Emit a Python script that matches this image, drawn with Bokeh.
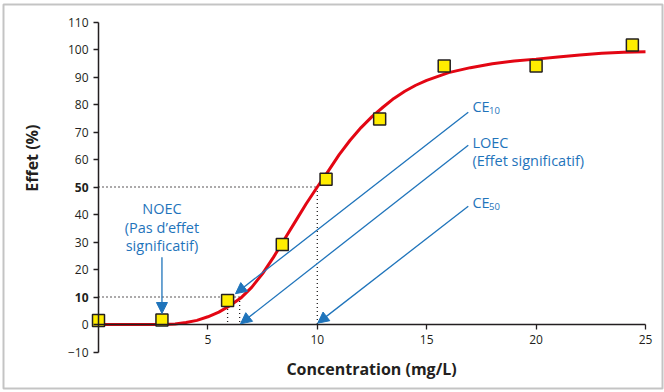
from math import pi
from bokeh.plotting import figure
from bokeh.models import (Range1d, FixedTicker, Label, Arrow, NormalHead,
                          BoxAnnotation, ColumnDataSource)
from bokeh.embed import file_html
from bokeh.resources import INLINE

# ---- data ----
conc = [0.0, 2.9, 5.9, 8.4, 10.4, 12.85, 15.8, 20.0, 24.4]
effect = [1.5, 1.6, 8.7, 29.1, 52.8, 74.7, 94.0, 94.0, 101.6]

fit_x = [0, 1, 2, 3, 3.5, 4, 4.5, 5, 5.5, 6, 6.5, 7, 7.5, 8, 8.5, 9, 9.5, 10,
         10.5, 11, 11.5, 12, 12.5, 13, 13.5, 14, 14.5, 15, 16, 17, 18, 19, 20,
         21, 22, 23, 24, 25]
fit_y = [0, 0, 0, 0, 0.2, 0.7, 1.5, 2.8, 4.5, 6.8, 9.6, 13.5, 18.5, 24.5, 31,
         37.5, 44, 50, 55.8, 61.8, 67.0, 71.6, 75.6, 79.0, 82.2, 84.8, 87.0,
         88.8, 91.6, 93.4, 94.8, 95.8, 96.5, 97.3, 98.0, 98.6, 99.0, 99.2]

x_ticks = [5, 10, 15, 20, 25]
y_ticks = [-10, 0, 10, 20, 30, 40, 50, 60, 70, 80, 90, 100, 110]

noec = 2.9
loec_c = 5.9
ce10 = 6.45
ce50 = 10.0

FONT = "Open Sans"
DARK = "#231f20"
BLUE = "#1f74bb"
RED = "#e30613"
YELLOW = "#ffed00"

W, H = 664, 392
# plotting area: x 0..25 over 547 px starting at px 98; y -10..110 over 330 px, 0 at px 324
SX = 547 / 25.0
SY = 330 / 120.0
x_range = Range1d(-98 / SX, (W - 98) / SX)
y_range = Range1d(-(H - 324) / SY, 324 / SY)

p = figure(width=W, height=H, x_range=x_range, y_range=y_range,
           output_backend="svg", toolbar_location=None,
           min_border_left=0, min_border_right=0, min_border_top=0,
           min_border_bottom=0)
p.grid.visible = False
p.outline_line_color = None
p.background_fill_color = "white"
p.border_fill_color = "white"

for ax in (p.xaxis[0], p.yaxis[0]):
    ax.axis_line_color = DARK
    ax.axis_line_width = 1.5
    ax.major_tick_line_color = DARK
    ax.major_tick_line_width = 1.3
    ax.major_tick_in = 0
    ax.major_tick_out = 5
    ax.minor_tick_in = 0
    ax.minor_tick_out = 0
    ax.major_label_text_font = FONT
    ax.major_label_text_font_size = "12px"
    ax.major_label_text_color = DARK
    ax.major_label_standoff = 5

p.xaxis.fixed_location = 0
p.xaxis.bounds = (0, 25)
p.xaxis.ticker = FixedTicker(ticks=x_ticks)
p.yaxis.fixed_location = 0
p.yaxis.bounds = (-10, 110)
p.yaxis.ticker = FixedTicker(ticks=y_ticks)
p.yaxis.major_label_overrides = {-10: "\u221210", 10: "", 50: ""}

# bold highlighted tick labels
for v in (10, 50):
    p.add_layout(Label(x=0, y=v, x_offset=-10, text=str(v), text_align="right",
                       text_baseline="middle", text_font=FONT, text_font_size="12px",
                       text_font_style="bold", text_color=DARK))

# axis titles
p.add_layout(Label(x=12.48, y=-16.0, text="Concentration (mg/L)", text_align="center",
                   text_baseline="middle", text_font=FONT, text_font_size="16px",
                   text_font_style="bold", text_color=DARK))
p.add_layout(Label(x=-3.02, y=60.5, text="Effet (%)", angle=pi / 2, text_align="center",
                   text_baseline="middle", text_font=FONT, text_font_size="16px",
                   text_font_style="bold", text_color=DARK))

# dotted reference lines
ref = ColumnDataSource(dict(
    x0=[0, ce50, 0, loec_c, ce10],
    y0=[50, 50, 10, 10, 10],
    x1=[ce50, ce50, ce10, loec_c, ce10],
    y1=[50, 0, 10, 0, 0]))
p.segment("x0", "y0", "x1", "y1", source=ref, line_color=DARK, line_width=1.3,
          line_dash="1 3")

# arrows
arrows = [
    (noec, 24.5, noec, 4.0),
    (16.9, 77.2, 6.26, 11.2),
    (16.9, 65.2, 6.49, 0.25),
    (16.9, 43.0, 10.02, 0.5),
]
for xs, ys, xe, ye in arrows:
    p.add_layout(Arrow(x_start=xs, y_start=ys, x_end=xe, y_end=ye,
                       line_color=BLUE, line_width=1.3,
                       end=NormalHead(size=11, fill_color=BLUE, line_color=BLUE,
                                      line_width=1)))

# fitted curve and observations
p.line(fit_x, fit_y, line_color=RED, line_width=3)
p.scatter(conc, effect, marker="square", size=12, fill_color=YELLOW,
          line_color=DARK, line_width=1.5)

# annotation texts
def txt(x, y, s, size="14.5px", align="left"):
    p.add_layout(Label(x=x, y=y, text=s, text_align=align, text_baseline="alphabetic",
                       text_font=FONT, text_font_size=size, text_color=BLUE))

txt(17.09, 79.2, "CE")
txt(17.85, 78.0, "10", size="9.5px")
txt(17.09, 66.1, "LOEC")
txt(17.09, 59.6, "(Effet significatif)")
txt(17.09, 44.3, "CE")
txt(17.85, 43.0, "50", size="9.5px")
txt(noec, 42.1, "NOEC", align="center")
txt(noec, 35.4, "(Pas d\u2019effet", align="center")
txt(noec, 28.8, "significatif)", align="center")

# outer frame
p.add_layout(BoxAnnotation(left=3, right=662, top=4, bottom=388,
                           left_units="canvas", right_units="canvas",
                           top_units="canvas", bottom_units="canvas",
                           fill_color=None, fill_alpha=0,
                           line_color="#3a3a3a", line_width=2))

open("out.html", "w").write(file_html(p, INLINE))
